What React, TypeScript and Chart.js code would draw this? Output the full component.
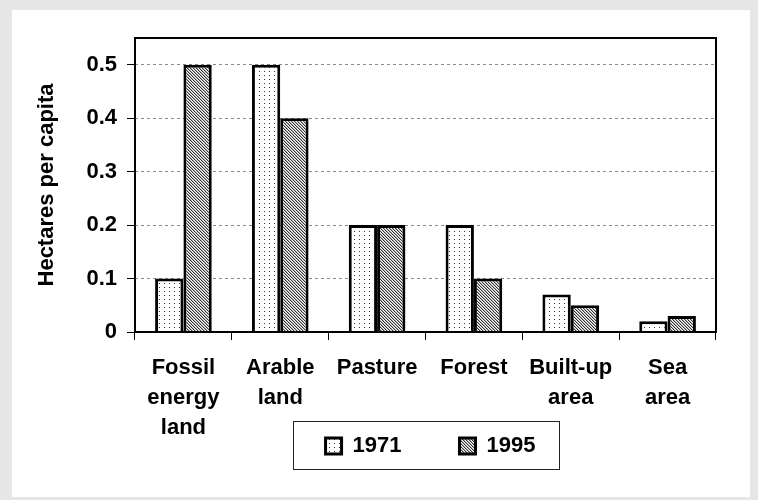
import React, { useEffect, useRef } from "react";
import { Chart, registerables } from "chart.js";

Chart.register(...registerables);

const categories: string[][] = [
  ["Fossil", "energy", "land"],
  ["Arable", "land"],
  ["Pasture"],
  ["Forest"],
  ["Built-up", "area"],
  ["Sea", "area"],
];
const values1971: number[] = [0.1, 0.5, 0.2, 0.2, 0.07, 0.02];
const values1995: number[] = [0.5, 0.4, 0.2, 0.1, 0.05, 0.03];
const seriesNames: string[] = ["1971", "1995"];
const yAxisTitle = "Hectares per capita";
const yMin = 0;
const yMax = 0.55;
const yStep = 0.1;

const FONT = { family: "'Liberation Sans', Arial, sans-serif", size: 22, weight: "bold" as const };

function dotPattern(ctx: CanvasRenderingContext2D) {
  const c = document.createElement("canvas");
  c.width = 5;
  c.height = 4;
  const g = c.getContext("2d")!;
  g.fillStyle = "#fff";
  g.fillRect(0, 0, 5, 4);
  g.fillStyle = "#333";
  g.fillRect(2, 1, 1, 1);
  return ctx.createPattern(c, "repeat")!;
}

function hatchPattern(ctx: CanvasRenderingContext2D) {
  const c = document.createElement("canvas");
  c.width = 3;
  c.height = 3;
  const g = c.getContext("2d")!;
  g.fillStyle = "#fff";
  g.fillRect(0, 0, 3, 3);
  g.fillStyle = "#b0b0b0";
  for (let i = 0; i < 3; i++) g.fillRect((i + 1) % 3, i, 1, 1);
  g.fillStyle = "#333";
  for (let i = 0; i < 3; i++) g.fillRect(i, i, 1, 1);
  return ctx.createPattern(c, "repeat")!;
}

const framePlugin = {
  id: "frameAndLegendBox",
  afterLayout(chart: any) {
    const lg = chart.legend;
    if (!lg) return;
    const top = chart.chartArea.bottom + 45;
    lg.top = top;
    lg.bottom = top + 100;
    lg.left += 5;
    lg.right += 5;
  },
  afterDraw(chart: any) {
    const { ctx, chartArea: a } = chart;
    ctx.save();
    ctx.strokeStyle = "#000";
    ctx.lineWidth = 2;
    ctx.strokeRect(a.left, a.top, a.right - a.left, a.bottom - a.top);
    const hb = chart.legend && chart.legend.legendHitBoxes;
    if (hb && hb.length) {
      const first = hb[0];
      const last = hb[hb.length - 1];
      const l = Math.round(first.left - 33) + 0.5;
      const r = Math.round(last.left + last.width + 24) + 0.5;
      const t = Math.round(first.top - 14) + 0.5;
      const b = Math.round(first.top + 34) + 0.5;
      ctx.lineWidth = 1;
      ctx.strokeStyle = "#222";
      ctx.strokeRect(l, t, r - l, b - t);
    }
    ctx.restore();
  },
};

export default function App() {
  const ref = useRef<HTMLCanvasElement | null>(null);

  useEffect(() => {
    const canvas = ref.current!;
    const ctx = canvas.getContext("2d")!;
    const chart = new Chart(ctx, {
      type: "bar",
      data: {
        labels: categories,
        datasets: [
          {
            label: seriesNames[0],
            data: values1971,
            backgroundColor: dotPattern(ctx),
            borderColor: "#000",
            borderWidth: 3,
            categoryPercentage: 0.585,
            barPercentage: 1,
          },
          {
            label: seriesNames[1],
            data: values1995,
            backgroundColor: hatchPattern(ctx),
            borderColor: "#000",
            borderWidth: 3,
            categoryPercentage: 0.585,
            barPercentage: 1,
          },
        ],
      },
      options: {
        animation: false,
        responsive: true,
        maintainAspectRatio: false,
        layout: { padding: { top: 28, right: 34, bottom: 0, left: 0 } },
        plugins: {
          legend: {
            position: "bottom",
            fullSize: false,
            maxHeight: 50,
            labels: {
              boxWidth: 16,
              boxHeight: 16,
              padding: 58,
              color: "#000",
              font: FONT,
            },
          },
          tooltip: { enabled: false },
        },
        scales: {
          x: {
            grid: {
              display: true,
              drawOnChartArea: false,
              drawTicks: true,
              tickLength: 8,
              color: "#000",
              offset: true,
              lineWidth: 1,
            },
            border: { display: false },
            ticks: {
              color: "#000",
              font: { ...FONT, lineHeight: 1.364 },
              padding: 13,
              maxRotation: 0,
              autoSkip: false,
            },
            afterFit: (s: any) => {
              s.height = 115;
            },
          },
          y: {
            min: yMin,
            max: yMax,
            ticks: {
              stepSize: yStep,
              includeBounds: false,
              color: "#000",
              font: FONT,
              padding: 10,
            },
            grid: {
              color: "#8a8a8a",
              tickColor: "#000",
              tickLength: 8,
              lineWidth: 1,
            },
            border: { display: false, dash: [3, 3] },
            title: {
              display: true,
              text: yAxisTitle,
              color: "#000",
              font: FONT,
              padding: { top: 22, bottom: 0 },
            },
            afterFit: (s: any) => {
              s.width = 123;
            },
          },
        },
      },
      plugins: [framePlugin],
    } as any);
    return () => chart.destroy();
  }, []);

  return (
    <div
      style={{
        position: "fixed",
        left: 0,
        top: 0,
        width: 758,
        height: 500,
        background: "#e6e6e6",
      }}
    >
      <div
        style={{
          position: "absolute",
          left: 12,
          top: 10,
          width: 738,
          height: 487,
          background: "#fff",
        }}
      >
        <canvas ref={ref} />
      </div>
    </div>
  );
}
